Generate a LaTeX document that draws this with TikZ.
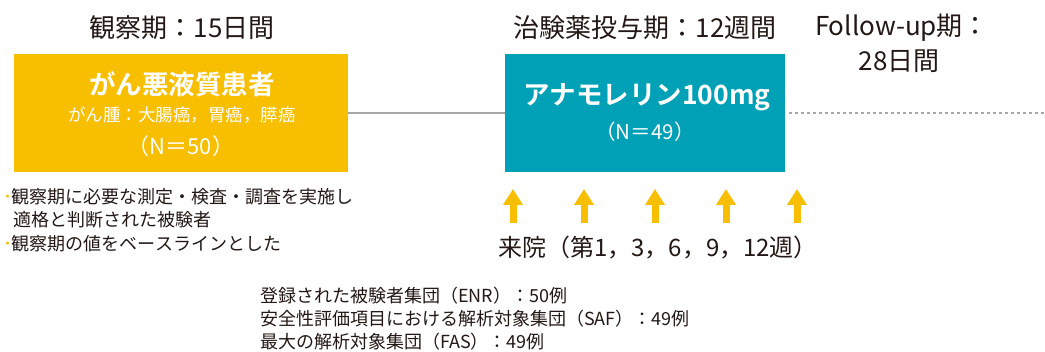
\documentclass[tikz,border=0pt]{standalone}
\usepackage{fontspec}
\setmainfont{Noto Sans CJK JP}[BoldFont={Noto Sans CJK JP Bold}]
\usetikzlibrary{arrows.meta}
\definecolor{yel}{HTML}{F8BE00}
\definecolor{teal2}{HTML}{00A0B6}
\definecolor{txt}{HTML}{231815}
\definecolor{lgray}{HTML}{A8A8A8}
\tikzset{
  every node/.style={inner sep=0pt, outer sep=0pt, text=txt},
  phase/.style={font=\fontsize{26}{30}\selectfont},
  boxtxt/.style={text=white},
  note/.style={anchor=west, font=\fontsize{18}{21}\selectfont},
  visit/.style={draw=yel, line width=7pt, -{Triangle[width=19pt,length=16pt]}},
}
\begin{document}
\begin{tikzpicture}[x=1pt,y=-1pt]
\useasboundingbox (0,0) rectangle (1045,352);
% boxes
\fill[yel] (14,54) rectangle (348,172);
\fill[teal2] (505,54) rectangle (785,172);
\node[inner sep=0pt, minimum width=334pt, minimum height=118pt] (obs) at (181,113) {};
\node[inner sep=0pt, minimum width=280pt, minimum height=118pt] (trt) at (645,113) {};
\coordinate (fend) at (1045,113);
\draw[lgray, line width=2.5pt] (obs.east) -- (trt.west);
\draw[lgray, line width=2pt, dash pattern=on 3pt off 3pt] ([xshift=4pt]trt.east) -- (fend);
% phase titles
\node[phase] (t1) at (182,28) {観察期：15日間};
\node[phase] (t2) at (645,28) {治験薬投与期：12週間};
\node[phase, anchor=west] (t3) at (815,28) {Follow-up期：};
\node[phase] (t4) at (899,61) {28日間};
% box texts
\node[boxtxt, font=\bfseries\fontsize{26.5}{30}\selectfont] (b1) at (182,84.5) {がん悪液質患者};
\node[boxtxt, font=\fontsize{17.5}{20}\selectfont] (b2) at (182,115) {がん腫：大腸癌，胃癌，膵癌};
\node[boxtxt, font=\fontsize{22}{26}\selectfont] (b3) at (181,146) {（N＝50）};
\node[boxtxt, font=\bfseries\fontsize{26.5}{30}\selectfont] (c1) at (647,97) {アナモレリン100mg};
\node[boxtxt, font=\fontsize{20.5}{24}\selectfont] (c2) at (645,132) {（N＝49）};
% visit arrows
\foreach \x [count=\i] in {513,584,655,726,797}{
  \coordinate (va\i) at (\x,223);
  \coordinate (vb\i) at (\x,189);
  \draw[visit] (va\i) -- (vb\i);
}
\node[font=\fontsize{24}{28}\selectfont] (visit) at (658,248) {来院（第1，3，6，9，12週）};
% notes
\node[note] (n1) at (3,196.5) {\textcolor{yel}{･}観察期に必要な測定・検査・調査を実施し};
\node[note] (n2) at (13,220) {適格と判断された被験者};
\node[note] (n3) at (3,243.5) {\textcolor{yel}{･}観察期の値をベースラインとした};
\node[note] (p1) at (260,296) {登録された被験者集団（ENR）：50例};
\node[note] (p2) at (260,319) {安全性評価項目における解析対象集団（SAF）：49例};
\node[note] (p3) at (260,342) {最大の解析対象集団（FAS）：49例};
\end{tikzpicture}
\end{document}
